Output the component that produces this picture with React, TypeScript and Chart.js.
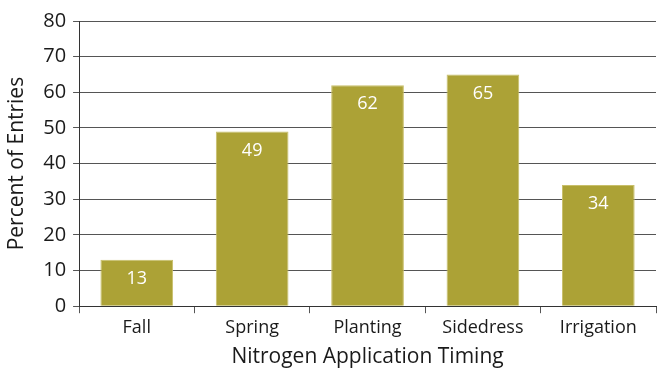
import React, { useEffect, useRef } from "react";
import { Chart, registerables } from "chart.js";

Chart.register(...registerables);

const categories = ["Fall", "Spring", "Planting", "Sidedress", "Irrigation"];
const percentValues = [13, 49, 62, 65, 34];
const yTicks = [0, 10, 20, 30, 40, 50, 60, 70, 80];

const FONT = "'Open Sans', sans-serif";

const valueLabels = {
  id: "valueLabels",
  afterDatasetsDraw(chart: any) {
    const ctx = chart.ctx;
    const meta = chart.getDatasetMeta(0);
    ctx.save();
    ctx.fillStyle = "#ffffff";
    ctx.font = `18px ${FONT}`;
    ctx.textAlign = "center";
    ctx.textBaseline = "middle";
    meta.data.forEach((bar: any, i: number) => {
      ctx.fillText(String(percentValues[i]), bar.x, bar.y + 19);
    });
    ctx.restore();
  },
};

export default function App() {
  const ref = useRef<HTMLCanvasElement>(null);
  useEffect(() => {
    if (!ref.current) return;
    const chart = new Chart(ref.current, {
      type: "bar",
      data: {
        labels: categories,
        datasets: [
          {
            data: percentValues,
            backgroundColor: "#aca236",
            borderColor: "#c8bf6a",
            borderWidth: 1,
            categoryPercentage: 1,
            barPercentage: 0.63,
          },
        ],
      },
      options: {
        animation: false,
        responsive: false,
        maintainAspectRatio: false,
        layout: { padding: { top: 21, right: 12, bottom: 8, left: 4 } },
        plugins: { legend: { display: false }, tooltip: { enabled: false } },
        scales: {
          x: {
            grid: {
              offset: true,
              drawOnChartArea: false,
              color: "#555",
              tickLength: 7,
            },
            border: { color: "#333", width: 1 },
            ticks: { color: "#1a1a1a", font: { family: FONT, size: 18 }, padding: 4 },
            title: {
              display: true,
              text: "Nitrogen Application Timing",
              color: "#1a1a1a",
              font: { family: FONT, size: 21 },
              padding: { top: 2, bottom: 0 },
            },
          },
          y: {
            min: 0,
            max: 80,
            afterBuildTicks(axis: any) {
              axis.ticks = yTicks.map((v) => ({ value: v }));
            },
            grid: { color: "#555", tickLength: 6 },
            border: { color: "#333", width: 1 },
            ticks: { color: "#1a1a1a", font: { family: FONT, size: 20 }, padding: 7 },
            title: {
              display: true,
              text: "Percent of Entries",
              color: "#1a1a1a",
              font: { family: FONT, size: 21 },
              padding: { top: 0, bottom: 7 },
            },
          },
        },
      },
      plugins: [valueLabels],
    });
    return () => chart.destroy();
  }, []);
  return (
    <div style={{ position: "fixed", left: 0, top: 0, width: 668, height: 378, background: "#fff" }}>
      <canvas ref={ref} width={668} height={378} style={{ display: "block" }} />
    </div>
  );
}
